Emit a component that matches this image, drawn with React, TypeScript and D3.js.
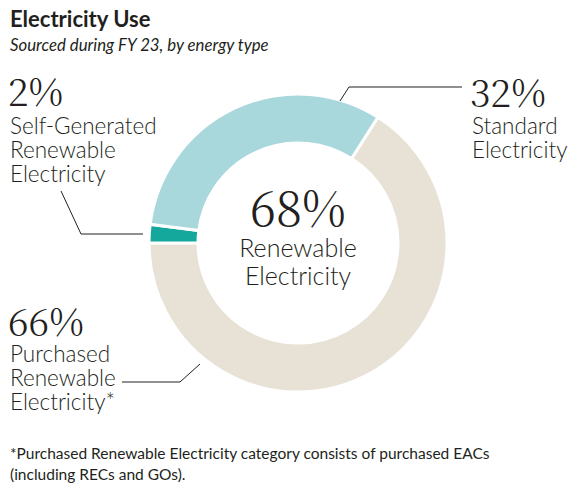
import React from "react";
import * as d3 from "d3";

const categories = ["Purchased Renewable Electricity", "Self-Generated Renewable Electricity", "Standard Electricity"];
const values = [66, 2, 32];
const colors = ["#e8e2d6", "#13a89b", "#a8d8dc"];
const leftLabel = ["Self-Generated", "Renewable", "Electricity"];
const rightLabel = ["Standard", "Electricity"];
const bottomLabel = ["Purchased", "Renewable", "Electricity*"];
const centerLabel = ["Renewable", "Electricity"];
const footnote = [
  "*Purchased Renewable Electricity category consists of purchased EACs",
  "(including RECs and GOs).",
];

const W = 571, H = 484;
const cx = 298, cy = 243, R = 149, r = 100;
const serif = "Noto Serif CJK SC";
const sans = "Lato";
const ink = "#231f20";

const big = { fontFamily: serif, fontWeight: 300, fontSize: 38, fill: ink } as React.CSSProperties;
const lab = { fontFamily: sans, fontWeight: 300, fontSize: 22.5, fill: ink } as React.CSSProperties;

export default function App() {
  const start = (32.4 / 360) * 2 * Math.PI;
  const pie = d3.pie<number>().sort(null).startAngle(start).endAngle(start + 2 * Math.PI);
  const arcs = pie(values);
  const arc = d3.arc<d3.PieArcDatum<number>>().innerRadius(r).outerRadius(R);
  return (
    <svg width={W} height={H} style={{ position: "absolute", left: 0, top: 0 }}>
      <text x={10} y={27} style={{ fontFamily: sans, fontWeight: 700, fontSize: 22, fill: ink }}>Electricity Use</text>
      <text x={10} y={51} style={{ fontFamily: sans, fontStyle: "italic", fontSize: 16.8, fill: ink }}>Sourced during FY 23, by energy type</text>
      <g transform={`translate(${cx},${cy})`}>
        {arcs.map((a, i) => (
          <path key={categories[i]} d={arc(a) || ""} fill={colors[i]} stroke="#fff" strokeWidth={3} />
        ))}
      </g>
      <text x={cx} y={226} textAnchor="middle" style={{ ...big, fontSize: 48 }}>{values[0] + values[1]}%</text>
      {centerLabel.map((t, i) => (
        <text key={t} x={cx} y={257 + i * 28} textAnchor="middle" style={{ ...lab, fontSize: 25 }}>{t}</text>
      ))}

      <text x={8} y={106} style={big}>{values[1]}%</text>
      {leftLabel.map((t, i) => (
        <text key={t} x={10} y={134 + i * 24} style={lab}>{t}</text>
      ))}
      <text x={470} y={107} style={big}>{values[2]}%</text>
      {rightLabel.map((t, i) => (
        <text key={t} x={472} y={134 + i * 24} style={lab}>{t}</text>
      ))}
      <text x={8} y={336} style={big}>{values[0]}%</text>
      {bottomLabel.map((t, i) => (
        <text key={t} x={10} y={362 + i * 24} style={lab}>{t}</text>
      ))}

      <polyline points="61,191 81,234 143,234" fill="none" stroke={ink} strokeWidth={1} />
      <polyline points="462,87 349,87 340,101" fill="none" stroke={ink} strokeWidth={1} />
      <polyline points="122,382 180,382 200,364" fill="none" stroke={ink} strokeWidth={1} />

      {footnote.map((t, i) => (
        <text key={t} x={10} y={459 + i * 21} style={{ fontFamily: sans, fontSize: 15.5, fill: ink }}>{t}</text>
      ))}
    </svg>
  );
}
